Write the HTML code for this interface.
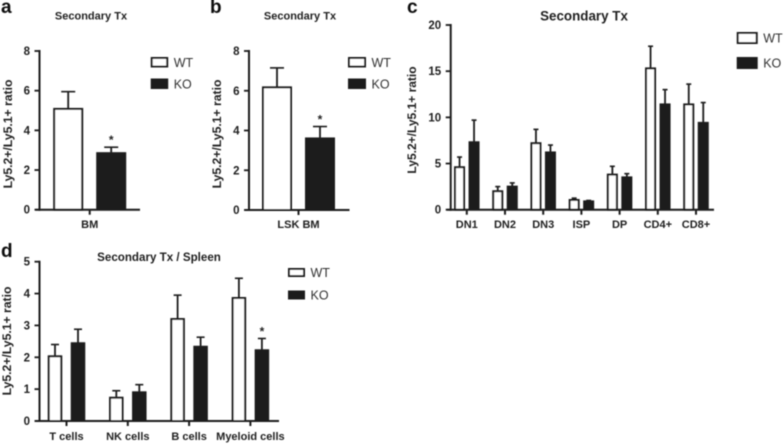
<!DOCTYPE html>
<html>
<head>
<meta charset="utf-8">
<style>
html,body{margin:0;padding:0;background:#fff;width:784px;height:444px;overflow:hidden}
svg{display:block}
text{font-family:"Liberation Sans",sans-serif;fill:#222}
</style>
</head>
<body>
<svg id="fig" width="784" height="444" viewBox="0 0 784 444" xmlns="http://www.w3.org/2000/svg">
<defs><filter id="soft" x="-5%" y="-5%" width="110%" height="110%"><feGaussianBlur stdDeviation="0.5"/></filter></defs>
<g id="root" filter="url(#soft)"></g>
</svg>
<script>
var aCategories = ['BM'];
var aWT = [5.08];
var aKO = [2.85];
var aWTErr = [0.87];
var aKOErr = [0.3];
var aStars = [[], [0]];
var aTicks = [0, 2, 4, 6, 8];

var bCategories = ['LSK BM'];
var bWT = [6.17];
var bKO = [3.6];
var bWTErr = [0.98];
var bKOErr = [0.6];
var bStars = [[], [0]];
var bTicks = [0, 2, 4, 6, 8];

var cCategories = ['DN1', 'DN2', 'DN3', 'ISP', 'DP', 'CD4+', 'CD8+'];
var cWT = [4.6, 2.0, 7.2, 1.05, 3.8, 15.3, 11.4];
var cKO = [7.3, 2.5, 6.2, 0.9, 3.5, 11.4, 9.4];
var cWTErr = [1.1, 0.5, 1.5, 0.2, 0.9, 2.4, 2.2];
var cKOErr = [2.4, 0.4, 0.8, 0.1, 0.4, 1.6, 2.2];
var cStars = [[], []];
var cTicks = [0, 5, 10, 15, 20];

var dCategories = ['T cells', 'NK cells', 'B cells', 'Myeloid cells'];
var dWT = [2.03, 0.73, 3.2, 3.86];
var dKO = [2.44, 0.9, 2.33, 2.22];
var dWTErr = [0.37, 0.22, 0.75, 0.62];
var dKOErr = [0.44, 0.24, 0.3, 0.37];
var dStars = [[], [3]];
var dTicks = [0, 1, 2, 3, 4, 5];

var NS = 'http://www.w3.org/2000/svg';
var INK = '#1c1c1c';
var root = document.getElementById('root');

function mk(tag, attrs, parent, txt) {
  var e = document.createElementNS(NS, tag);
  for (var k in attrs) e.setAttribute(k, attrs[k]);
  if (txt !== undefined) e.textContent = txt;
  parent.appendChild(e);
  return e;
}
function line(p, x1, y1, x2, y2, w) {
  return mk('line', {x1: x1, y1: y1, x2: x2, y2: y2, stroke: INK, 'stroke-width': w}, p);
}

function drawChart(o) {
  var g = mk('g', {}, root);
  
  

  var maxV = o.ticks[o.ticks.length - 1];
  function y(v) { return o.y0 - (o.y0 - o.yTop) * v / maxV; }
  function cx(i) { return o.firstCenter + i * o.step; }

  var letter = mk('text', {x: o.letterX, y: o.letterY, 'font-size': 19, 'font-weight': 'bold', style: 'fill:#111'}, g, o.id);
  
  

  var title = mk('text', {x: o.titleX, y: o.titleY, 'font-size': o.titleSize, 'font-weight': 'bold', 'text-anchor': 'middle'}, g, o.title);
  
  

  var yt = mk('text', {x: 0, y: 0, 'font-size': o.ySize, 'font-weight': 'bold', 'text-anchor': 'middle',
    transform: 'translate(' + o.yTitleX + ' ' + o.yTitleY + ') rotate(-90)'}, g, 'Ly5.2+/Ly5.1+ ratio');
  
  

  o.cats.forEach(function (c, i) {
    var wx = cx(i) - o.gap / 2 - o.barW;
    var kx = cx(i) + o.gap / 2;
    var wxc = wx + o.barW / 2, kxc = kx + o.barW / 2;

    var ew = line(g, wxc, y(o.wt[i]), wxc, y(o.wt[i] + o.wtErr[i]), 1.8);
    
    
    line(g, wxc - o.capW, y(o.wt[i] + o.wtErr[i]), wxc + o.capW, y(o.wt[i] + o.wtErr[i]), 1.6);

    var ek = line(g, kxc, y(o.ko[i]), kxc, y(o.ko[i] + o.koErr[i]), 1.8);
    
    
    line(g, kxc - o.capW, y(o.ko[i] + o.koErr[i]), kxc + o.capW, y(o.ko[i] + o.koErr[i]), 1.6);

    var bw = mk('rect', {x: wx + 1, y: y(o.wt[i]), width: o.barW - 2, height: o.y0 - y(o.wt[i]), fill: '#fff', stroke: INK, 'stroke-width': 2}, g);
    
    

    var bk = mk('rect', {x: kx, y: y(o.ko[i]) - 1, width: o.barW, height: o.y0 - y(o.ko[i]) + 1, fill: INK}, g);
    
    

    line(g, cx(i), o.y0, cx(i), o.y0 + 5, 2);
    var lab = mk('text', {x: cx(i) + (o.labelShift || 0), y: o.labelY, 'font-size': o.catSize, 'font-weight': 'bold', 'text-anchor': 'middle'}, g, c);
    
    

    if (o.stars[1].indexOf(i) >= 0) {
      var st = mk('text', {x: kxc, y: y(o.ko[i] + o.koErr[i]) - 3, 'font-size': 12, 'font-weight': 'bold', 'text-anchor': 'middle'}, g, '*');
      
      
    }
  });

  var ya = line(g, o.axisX, o.yTop - 1, o.axisX, o.y0 + 1, 2);
  
  
  var xa = line(g, o.axisX - 4, o.y0, o.axisEnd, o.y0, 2);
  
  

  o.ticks.forEach(function (t) {
    line(g, o.axisX - 5, y(t), o.axisX, y(t), 1.8);
    var tl = mk('text', {x: o.axisX - 9.5, y: y(t) + 4, 'font-size': 11.5, 'font-weight': 'bold', 'text-anchor': 'end'}, g, String(t));
    
    
  });

  var lw = mk('rect', {x: o.legX + 1, y: o.legY1 + 1, width: o.legW - 2, height: o.legH - 2, fill: '#fff', stroke: INK, 'stroke-width': 2}, g);
  
  
  var lwt = mk('text', {x: o.legX + o.legW + 5.5, y: o.legY1 + o.legH / 2 + 4.5, 'font-size': 12.5, style: 'fill:#333'}, g, 'WT');
  
  
  var lk = mk('rect', {x: o.legX, y: o.legY2, width: o.legW, height: o.legH, fill: INK}, g);
  
  
  var lkt = mk('text', {x: o.legX + o.legW + 5.5, y: o.legY2 + o.legH / 2 + 4.5, 'font-size': 12.5, style: 'fill:#333'}, g, 'KO');
  
  
}

drawChart({id: 'a', cats: aCategories, wt: aWT, ko: aKO, wtErr: aWTErr, koErr: aKOErr, stars: aStars, ticks: aTicks,
  axisX: 39.5, axisEnd: 140, y0: 209.7, yTop: 51, firstCenter: 89.7, step: 0, barW: 30, gap: 13, capW: 7,
  letterX: 1, letterY: 13, title: 'Secondary Tx', titleX: 91, titleY: 19.5, titleSize: 11, ySize: 12.2, yTitleX: 12, yTitleY: 134,
  labelY: 228, catSize: 11, legX: 150.7, legY1: 57, legY2: 78.5, legW: 17.5, legH: 10.5});
drawChart({id: 'b', cats: bCategories, wt: bWT, ko: bKO, wtErr: bWTErr, koErr: bKOErr, stars: bStars, ticks: bTicks,
  axisX: 249, axisEnd: 349.5, y0: 210, yTop: 51, firstCenter: 298.5, step: 0, barW: 30, gap: 13, capW: 7,
  letterX: 210, letterY: 13, title: 'Secondary Tx', titleX: 300, titleY: 19.5, titleSize: 11, ySize: 12.2, yTitleX: 221, yTitleY: 134,
  labelY: 228, catSize: 11, legX: 348, legY1: 57, legY2: 78.5, legW: 18, legH: 10.5});
drawChart({id: 'c', cats: cCategories, wt: cWT, ko: cKO, wtErr: cWTErr, koErr: cKOErr, stars: cStars, ticks: cTicks,
  axisX: 450.7, axisEnd: 714, y0: 209.7, yTop: 25, firstCenter: 466.8, step: 38.2, barW: 11, gap: 3.5, capW: 2.5,
  letterX: 407, letterY: 13, title: 'Secondary Tx', titleX: 584, titleY: 20.5, titleSize: 13.4, ySize: 12, yTitleX: 416, yTitleY: 120,
  labelY: 228, catSize: 11, labelShift: 0, legX: 736.7, legY1: 32, legY2: 57, legW: 21, legH: 12});
drawChart({id: 'd', cats: dCategories, wt: dWT, ko: dKO, wtErr: dWTErr, koErr: dKOErr, stars: dStars, ticks: dTicks,
  axisX: 39.5, axisEnd: 279, y0: 421, yTop: 261.7, firstCenter: 66.5, step: 61.3, barW: 14.5, gap: 8.5, capW: 4,
  letterX: 1, letterY: 257, title: 'Secondary Tx / Spleen', titleX: 159, titleY: 261, titleSize: 11.6, ySize: 12.2, yTitleX: 11, yTitleY: 341,
  labelY: 440, catSize: 11, legX: 288, legY1: 268, legY2: 290.5, legW: 17, legH: 9});
</script>
</body>
</html>
